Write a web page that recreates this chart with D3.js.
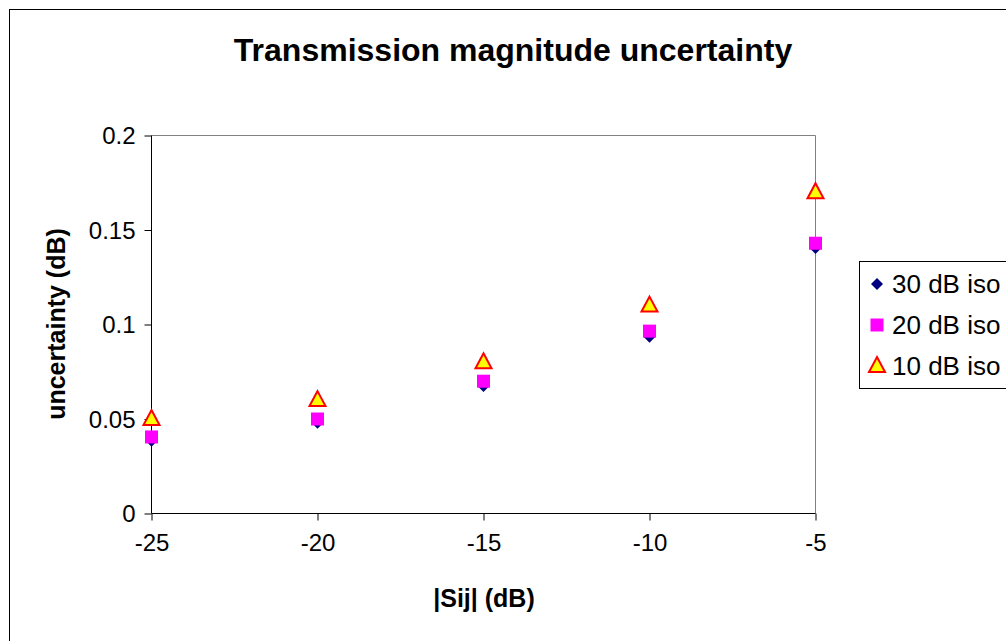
<!DOCTYPE html>
<html><head><meta charset="utf-8">
<script src="https://cdn.jsdelivr.net/npm/d3@7"></script>
<style>html,body{margin:0;padding:0;background:#fff;overflow:hidden}</style>
</head><body>
<svg id="c" width="1006" height="641"></svg>
<script>
const xValues = [-25, -20, -15, -10, -5];
const iso30 = [0.0385, 0.048, 0.0675, 0.0935, 0.1405];
const iso20 = [0.0405, 0.050, 0.070, 0.0965, 0.143];
const iso10 = [0.050, 0.060, 0.080, 0.110, 0.170];
const seriesNames = ["30 dB iso", "20 dB iso", "10 dB iso"];
const xTicks = [-25, -20, -15, -10, -5];
const yTicks = [0, 0.05, 0.1, 0.15, 0.2];

const svg = d3.select("#c");
const F = "Arial, 'Liberation Sans', sans-serif";
svg.append("rect").attr("width",1006).attr("height",641).attr("fill","#fff");
svg.append("rect").attr("x",9.5).attr("y",9.5).attr("width",1010).attr("height",660)
  .attr("fill","none").attr("stroke","#000").attr("stroke-width",1);

const L=151.5, R=815.5, T=135.5, B=513.5;
const x = d3.scaleLinear().domain([-25,-5]).range([L,R]);
const y = d3.scaleLinear().domain([0,0.2]).range([B,T]);

svg.append("path").attr("d",`M${L},${T}H${R}V${B}`).attr("fill","none").attr("stroke","#808080").attr("stroke-width",1);

const yAxis = svg.append("g").attr("transform",`translate(${L},0)`)
  .call(d3.axisLeft(y).tickValues(yTicks).tickSize(7).tickPadding(9).tickFormat(d=>String(d)));
const xAxis = svg.append("g").attr("transform",`translate(0,${B})`)
  .call(d3.axisBottom(x).tickValues(xTicks).tickSize(7).tickPadding(18).tickFormat(d=>String(d)));
[yAxis,xAxis].forEach(g=>{
  g.selectAll("path,line").attr("stroke","#000").attr("stroke-width",1);
  g.selectAll("text").attr("font-family",F).attr("font-size",24).attr("fill","#000");
});
yAxis.selectAll("text").attr("dy","0.35em");
xAxis.selectAll("text").attr("dy","0.5em");
xAxis.select(".domain").attr("d",`M${L},0H${R}`);
yAxis.select(".domain").attr("d",`M0,${B}V${T}`);

svg.append("text").attr("x",513).attr("y",61).attr("text-anchor","middle")
  .attr("font-family",F).attr("font-weight","bold").attr("font-size",32).text("Transmission magnitude uncertainty");
svg.append("text").attr("x",484).attr("y",607).attr("text-anchor","middle")
  .attr("font-family",F).attr("font-weight","bold").attr("font-size",25).text("|Sij| (dB)");
svg.append("text").attr("transform","translate(65,324) rotate(-90)").attr("text-anchor","middle")
  .attr("font-family",F).attr("font-weight","bold").attr("font-size",25).text("uncertainty (dB)");

function marker(g, kind, cx, cy){
  if(kind===0){
    g.append("path").attr("d",`M${cx},${cy-6}L${cx+6},${cy}L${cx},${cy+6}L${cx-6},${cy}Z`).attr("fill","#000080");
  } else if(kind===1){
    g.append("rect").attr("x",cx-6.5).attr("y",cy-6.5).attr("width",13).attr("height",13).attr("fill","#ff00ff");
  } else {
    g.append("path").attr("d",`M${cx},${cy-9}L${cx+8},${cy+6}L${cx-8},${cy+6}Z`).attr("fill","#ffff00").attr("stroke","#ff0000").attr("stroke-width",2).attr("stroke-linejoin","miter");
  }
}
const series=[iso30,iso20,iso10];
const pg = svg.append("g");
series.forEach((s,k)=>{
  s.forEach((v,i)=>marker(pg,k,x(xValues[i]),y(v)));
});

const lg = svg.append("g");
lg.append("rect").attr("x",859.5).attr("y",261.5).attr("width",160).attr("height",127)
  .attr("fill","#fff").attr("stroke","#000").attr("stroke-width",1);
seriesNames.forEach((n,k)=>{
  const cy = 284 + k*41;
  marker(lg,k,877,cy);
  lg.append("text").attr("x",892).attr("y",cy+9).attr("font-family",F).attr("font-size",26).text(n);
});
</script>
</body></html>
